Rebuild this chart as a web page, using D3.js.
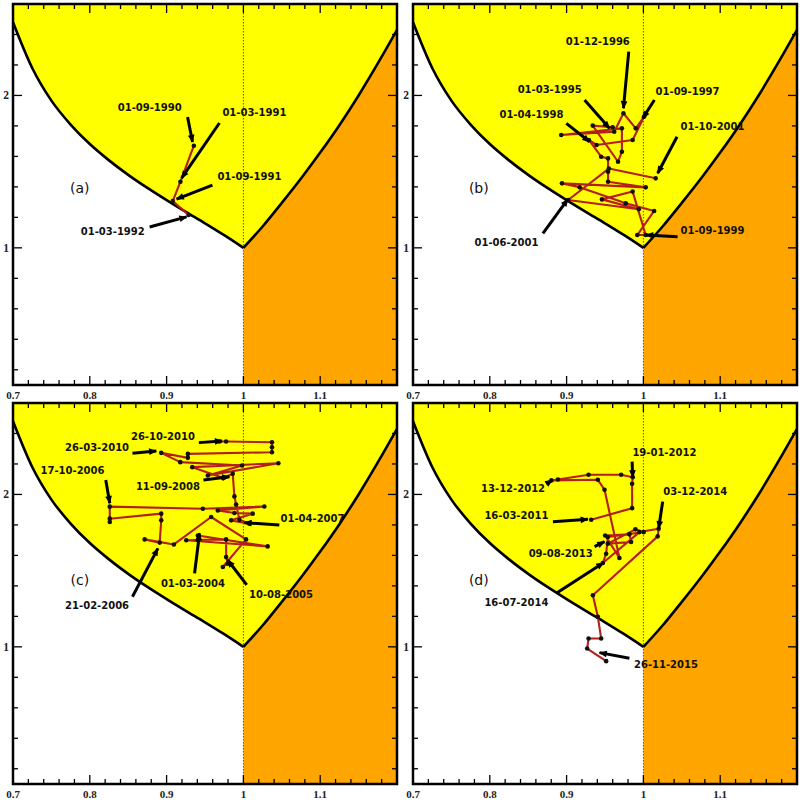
<!DOCTYPE html>
<html><head><meta charset="utf-8">
<script src="https://cdn.jsdelivr.net/npm/d3@7"></script>
<style>body{margin:0;background:#fff}</style>
</head><body><svg id="chart" width="800" height="800"></svg>
<script>
// ---------------- data ----------------
const panelTags = ["(a)", "(b)", "(c)", "(d)"];
const xTickValues = [0.7, 0.8, 0.9, 1.0, 1.1];
const xTickLabels = ["0.7", "0.8", "0.9", "1", "1.1"];
const yTickValues = [1, 2];
const yTickLabels = ["1", "2"];

// boundary curves
const leftBoundaryX = [0.700, 0.725, 0.750, 0.775, 0.800, 0.825, 0.850, 0.875, 0.900, 0.925, 0.950, 0.975, 1.000];
const leftBoundaryY = [2.48, 2.18, 1.966, 1.809, 1.681, 1.574, 1.479, 1.393, 1.313, 1.236, 1.161, 1.083, 1.00];
const rightBoundaryX = [1.000, 1.025, 1.050, 1.075, 1.100, 1.125, 1.150, 1.175, 1.200];
const rightBoundaryY = [1.00, 1.14, 1.295, 1.455, 1.625, 1.805, 2.00, 2.21, 2.43];

// trajectories
const pathA_x = [0.9355, 0.918, 0.908, 0.9286];
const pathA_y = [1.670, 1.434, 1.307, 1.215];

const pathB_x = [0.960, 0.934, 0.967, 0.972, 0.972, 0.893, 0.962, 0.974, 0.990, 1.001, 0.986, 0.939, 0.929, 0.945, 0.954,
                 0.954, 0.954, 1.003, 0.894, 0.917, 0.977, 1.014, 0.992, 1.003, 0.986, 0.946, 0.994, 0.902, 0.955, 1.016];
const pathB_y = [1.791, 1.802, 1.565, 1.631, 1.784, 1.740, 1.762, 1.883, 1.784, 1.861, 1.708, 1.675, 1.708, 1.598, 1.587,
                 1.500, 1.434, 1.397, 1.423, 1.397, 1.292, 1.242, 1.084, 1.084, 1.369, 1.318, 1.253, 1.314, 1.520, 1.456];

const pathC_x = [0.9407, 0.9407, 1.0316, 0.9256, 0.9775, 0.9775, 0.9796, 0.9732, 1.0035, 0.958, 0.9095, 0.8714, 0.891, 0.893,
                 0.893, 0.826, 0.826, 0.826, 0.9472, 1.0273, 0.9667, 0.9883, 1.0121, 0.984, 1.0078, 0.9948, 0.9905, 0.9883,
                 0.9861, 0.9732, 0.9334, 1.0455, 0.9537, 0.9983, 0.9178, 0.893, 0.9277, 0.9277, 1.0372, 1.0372, 1.0372,
                 0.9775, 0.9688];
const pathC_y = [1.699, 1.731, 1.659, 1.699, 1.705, 1.589, 1.546, 1.524, 1.705, 1.852, 1.672, 1.705, 1.684, 1.830,
                 1.874, 1.841, 1.819, 1.920, 1.906, 1.921, 1.895, 1.878, 1.874, 1.830, 1.808, 1.834, 1.934, 1.987,
                 2.135, 2.109, 2.179, 2.205, 2.124, 2.190, 2.212, 2.273, 2.240, 2.266, 2.277, 2.310, 2.3425,
                 2.347, 2.347];

const pathD_x = [0.9320, 0.9853, 0.9853, 0.9861, 0.9710, 0.9286, 0.8887, 0.8801, 0.9407, 0.9494, 0.9688, 0.9502, 0.9818,
                 0.9840, 0.9537, 0.9896, 1.0004, 0.9537, 0.9515, 0.9472, 0.9948, 1.0199, 1.0186, 0.9342, 0.9407, 0.9450,
                 0.9286, 0.9268, 0.9515];
const pathD_y = [1.834, 1.910, 2.070, 2.113, 2.129, 2.129, 2.098, 2.092, 2.096, 2.031, 1.583, 1.731, 1.738,
                 1.688, 1.677, 1.771, 1.753, 1.721, 1.611, 1.550, 1.753, 1.775, 1.725, 1.339, 1.197, 1.055,
                 1.055, 0.989, 0.906];

// annotation labels: [text, label x, label y, arrow start x, y, arrow end x, y] (data units)
const notesA = [
  ["01-09-1990", 0.878, 1.918, 0.9273, 1.859, 0.9338, 1.694],
  ["01-03-1991", 1.0143, 1.885, 0.9688, 1.819, 0.9195, 1.458],
  ["01-09-1991", 1.0078, 1.465, 0.9597, 1.412, 0.913, 1.320],
  ["01-03-1992", 0.8299, 1.104, 0.8779, 1.137, 0.926, 1.203]
];
const notesB = [
  ["01-12-1996", 0.9407, 2.353, 0.9809, 2.287, 0.974, 1.916],
  ["01-03-1995", 0.8779, 2.036, 0.9234, 1.970, 0.9558, 1.784],
  ["01-09-1997", 1.0575, 2.025, 1.0143, 1.970, 0.9991, 1.850],
  ["01-04-1998", 0.8542, 1.872, 0.8996, 1.817, 0.9299, 1.696],
  ["01-10-2001", 1.09, 1.795, 1.0438, 1.729, 1.0186, 1.489],
  ["01-09-1999", 1.09, 1.117, 1.0445, 1.073, 1.0035, 1.084],
  ["01-06-2001", 0.8217, 1.034, 0.8692, 1.095, 0.9017, 1.319]
];
const notesC = [
  ["26-10-2010", 0.8952, 2.379, 0.942, 2.340, 0.9723, 2.351],
  ["26-03-2010", 0.8095, 2.307, 0.8555, 2.270, 0.8866, 2.285],
  ["17-10-2006", 0.7775, 2.156, 0.8208, 2.095, 0.826, 1.942],
  ["11-09-2008", 0.9017, 2.055, 0.948, 2.095, 0.9818, 2.116],
  ["01-04-2007", 1.09, 1.843, 1.0468, 1.799, 1.0013, 1.815],
  ["01-03-2004", 0.9342, 1.417, 0.9364, 1.482, 0.9429, 1.745],
  ["10-08-2005", 1.049, 1.345, 1.0043, 1.406, 0.9796, 1.570],
  ["21-02-2006", 0.8095, 1.268, 0.8555, 1.329, 0.8887, 1.646]
];
const notesD = [
  ["19-01-2012", 1.0273, 2.274, 0.9853, 2.215, 0.9861, 2.112],
  ["13-12-2012", 0.8303, 2.040, 0.8736, 2.068, 0.8814, 2.095],
  ["03-12-2014", 1.0675, 2.018, 1.0251, 1.953, 1.0199, 1.778],
  ["16-03-2011", 0.8346, 1.865, 0.8822, 1.821, 0.9277, 1.837],
  ["09-08-2013", 0.8922, 1.614, 0.9364, 1.657, 0.9494, 1.690],
  ["16-07-2014", 0.8346, 1.290, 0.8866, 1.351, 0.9481, 1.552],
  ["26-11-2015", 1.0294, 0.881, 0.9818, 0.925, 0.9429, 0.962]
];

// ---------------- layout ----------------
const xDomain = [0.7, 1.2];
const yDomain = [0.1, 2.6];
const W = 384, H = 381;
const frames = [
  {L: 13, T: 4}, {L: 413, T: 4}, {L: 13, T: 403}, {L: 413, T: 403}
];
const tagPos = [[0.787, 1.393], [0.7857, 1.391], [0.787, 1.439], [0.7857, 1.439]];
const panels = [
  {xs: pathA_x, ys: pathA_y, notes: notesA},
  {xs: pathB_x, ys: pathB_y, notes: notesB},
  {xs: pathC_x, ys: pathC_y, notes: notesC},
  {xs: pathD_x, ys: pathD_y, notes: notesD}
];

const svg = d3.select("#chart");
svg.append("rect").attr("width", 800).attr("height", 800).attr("fill", "#fff");

const defs = svg.append("defs");
defs.append("marker").attr("id", "ah").attr("viewBox", "0 -5 10 10")
  .attr("refX", 9).attr("refY", 0)
  .attr("markerUnits", "userSpaceOnUse")
  .attr("markerWidth", 9).attr("markerHeight", 8).attr("orient", "auto")
  .append("path").attr("d", "M0,-4.2L10,0L0,4.2Z").attr("fill", "#000");

const leftPts = leftBoundaryX.map((x, i) => [x, leftBoundaryY[i]]);
const rightPts = rightBoundaryX.map((x, i) => [x, rightBoundaryY[i]]);

frames.forEach((f, pi) => {
  const x = d3.scaleLinear(xDomain, [f.L, f.L + W]);
  const y = d3.scaleLinear(yDomain, [f.T + H, f.T]);
  const g = svg.append("g");

  const topArea = d3.area().x(d => x(d[0])).y0(y(yDomain[1])).y1(d => y(d[1])).curve(d3.curveMonotoneX);
  const botArea = d3.area().x(d => x(d[0])).y0(y(yDomain[0])).y1(d => y(d[1])).curve(d3.curveMonotoneX);
  const line = d3.line().x(d => x(d[0])).y(d => y(d[1])).curve(d3.curveMonotoneX);

  g.append("path").attr("d", topArea(leftPts)).attr("fill", "#ffff00");
  g.append("path").attr("d", topArea(rightPts)).attr("fill", "#ffff00");
  g.append("path").attr("d", botArea(rightPts)).attr("fill", "#ffa500");

  // dotted line x = 1
  g.append("line").attr("x1", x(1)).attr("x2", x(1)).attr("y1", y(yDomain[1])).attr("y2", y(yDomain[0]))
    .attr("stroke", "#555").attr("stroke-width", 1).attr("stroke-dasharray", "1.5,1.5");

  g.append("path").attr("d", line(leftPts)).attr("fill", "none").attr("stroke", "#000").attr("stroke-width", 2.6);
  g.append("path").attr("d", line(rightPts)).attr("fill", "none").attr("stroke", "#000").attr("stroke-width", 2.6);

  // ticks on all sides (inward)
  const xMinor = d3.range(35, 61).map(i => i / 50);
  const yMinor = d3.range(1, 13).map(i => i / 5);
  const isMajor = v => Math.abs(v * 10 - Math.round(v * 10)) < 1e-6;
  const tg = g.append("g").attr("stroke", "#000").attr("stroke-width", 1.3);
  xMinor.forEach(v => {
    const len = isMajor(v) ? 9 : 5;
    tg.append("line").attr("x1", x(v)).attr("x2", x(v)).attr("y1", y(yDomain[0])).attr("y2", y(yDomain[0]) - len);
    tg.append("line").attr("x1", x(v)).attr("x2", x(v)).attr("y1", y(yDomain[1])).attr("y2", y(yDomain[1]) + len);
  });
  yMinor.forEach(v => {
    const len = Math.abs(v - Math.round(v)) < 1e-6 ? 9 : 5;
    tg.append("line").attr("y1", y(v)).attr("y2", y(v)).attr("x1", x(xDomain[0])).attr("x2", x(xDomain[0]) + len);
    tg.append("line").attr("y1", y(v)).attr("y2", y(v)).attr("x1", x(xDomain[1])).attr("x2", x(xDomain[1]) - len);
  });

  // frame
  g.append("rect").attr("x", f.L).attr("y", f.T).attr("width", W).attr("height", H)
    .attr("fill", "none").attr("stroke", "#000").attr("stroke-width", 2.5);

  // tick labels
  xTickValues.forEach((v, i) => {
    g.append("text").attr("x", x(v)).attr("y", y(yDomain[0]) + 14).attr("text-anchor", "middle")
      .attr("font-family", "Liberation Serif, serif").attr("font-weight", "bold").attr("font-size", 11)
      .attr("fill", "#222").text(xTickLabels[i]);
  });
  yTickValues.forEach((v, i) => {
    g.append("text").attr("x", f.L - 4).attr("y", y(v) + 4).attr("text-anchor", "end")
      .attr("font-family", "Liberation Serif, serif").attr("font-weight", "bold").attr("font-size", 11.5)
      .attr("fill", "#222").text(yTickLabels[i]);
  });

  // trajectory
  const p = panels[pi];
  const pts = p.xs.map((xv, i) => [xv, p.ys[i]]);
  g.append("path").attr("d", d3.line().x(d => x(d[0])).y(d => y(d[1]))(pts))
    .attr("fill", "none").attr("stroke", "#b3201c").attr("stroke-width", 2.1).attr("stroke-linejoin", "round");
  g.selectAll("circle.pt").data(pts).enter().append("circle")
    .attr("cx", d => x(d[0])).attr("cy", d => y(d[1])).attr("r", 2.3).attr("fill", "#111");

  // annotations
  p.notes.forEach(n => {
    g.append("line").attr("x1", x(n[3])).attr("y1", y(n[4])).attr("x2", x(n[5])).attr("y2", y(n[6]))
      .attr("stroke", "#000").attr("stroke-width", 3).attr("marker-end", "url(#ah)");
    g.append("text").attr("x", x(n[1])).attr("y", y(n[2]) + 3.5).attr("text-anchor", "middle")
      .attr("font-family", "DejaVu Sans, sans-serif").attr("font-weight", "bold").attr("font-size", 10)
      .attr("fill", "#111").text(n[0]);
  });

  g.append("text").attr("x", x(tagPos[pi][0])).attr("y", y(tagPos[pi][1]) + 5).attr("text-anchor", "middle")
    .attr("font-family", "DejaVu Sans, sans-serif").attr("font-size", 14).attr("fill", "#111").text(panelTags[pi]);
});
</script>
</body></html>
